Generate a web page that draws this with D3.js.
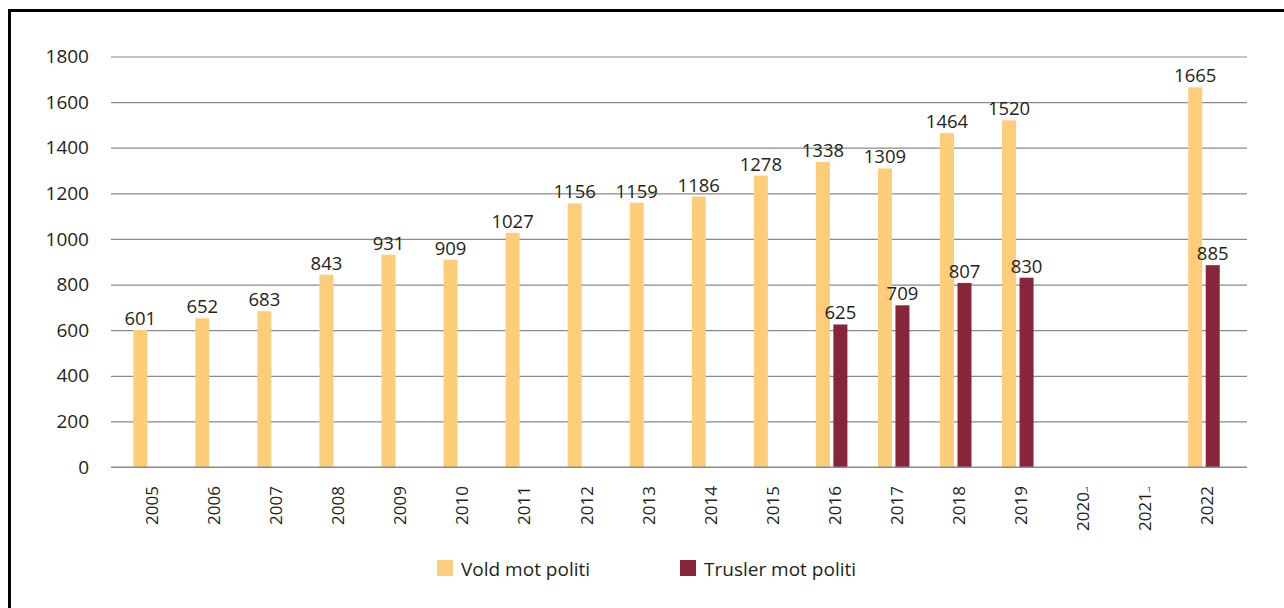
<!DOCTYPE html>
<html lang="no">
<head>
<meta charset="utf-8" />
<title>Vold og trusler mot politi</title>
<script src="https://d3js.org/d3.v7.min.js"></script>
<style>
  body { margin: 0; background: #fff; }
  svg text { font-family: "Open Sans", "Noto Sans", sans-serif; fill: #231f20; }
</style>
</head>
<body>
<div id="chart"></div>
<script>
// data
const years = ['2005', '2006', '2007', '2008', '2009', '2010', '2011', '2012', '2013',
  '2014', '2015', '2016', '2017', '2018', '2019', '2020', '2021', '2022'];
const footnoted = ['2020', '2021'];
const vold = [601, 652, 683, 843, 931, 909, 1027, 1156, 1159, 1186, 1278, 1338, 1309, 1464, 1520, null, null, 1665];
const trusler = [null, null, null, null, null, null, null, null, null, null, null, 625, 709, 807, 830, null, null, 885];
const yTicks = [0, 200, 400, 600, 800, 1000, 1200, 1400, 1600, 1800];
const seriesNames = ['Vold mot politi', 'Trusler mot politi'];
const colors = ['#fecd7a', '#87253a'];

const W = 1284, H = 608;
const plot = { left: 111, right: 1247, top: 56.5, bottom: 467 };

const svg = d3.select('#chart').append('svg')
  .attr('width', W)
  .attr('height', H);

// outer frame (runs off the right and bottom edges)
svg.append('rect')
  .attr('x', 9.5).attr('y', 10.5)
  .attr('width', 1400).attr('height', 800)
  .attr('fill', 'none')
  .attr('stroke', '#000')
  .attr('stroke-width', 3);

const x = d3.scaleBand()
  .domain(years)
  .range([118, 1235])
  .padding(0);

const half = 15.75;
const x1 = d3.scaleBand()
  .domain(seriesNames)
  .range([x.bandwidth() / 2 - half, x.bandwidth() / 2 + half])
  .paddingInner(0.2);

const y = d3.scaleLinear()
  .domain([0, 1800])
  .range([plot.bottom, plot.top]);

// gridlines + y labels
const yAxis = svg.append('g')
  .attr('transform', `translate(${plot.left},0)`)
  .call(d3.axisLeft(y).tickValues(yTicks).tickFormat(d3.format('d'))
    .tickSize(-(plot.right - plot.left)).tickPadding(22));
yAxis.select('.domain').remove();
yAxis.selectAll('.tick line')
  .attr('stroke', '#8a8a8a')
  .attr('stroke-width', 1.2);
yAxis.selectAll('.tick text')
  .attr('font-size', 19)
  .attr('fill', '#231f20');

// bars
const rows = years.map((yr, i) => ({ year: yr, values: [vold[i], trusler[i]] }));

const groups = svg.append('g').selectAll('g')
  .data(rows)
  .join('g')
  .attr('transform', d => `translate(${x(d.year)},0)`);

const cells = groups.selectAll('g')
  .data(d => d.values.map((v, k) => ({ key: seriesNames[k], k, v })).filter(c => c.v != null))
  .join('g');

cells.append('rect')
  .attr('x', c => x1(c.key))
  .attr('width', x1.bandwidth())
  .attr('y', c => y(c.v))
  .attr('height', c => y(0) - y(c.v))
  .attr('fill', c => colors[c.k]);

cells.append('text')
  .attr('x', c => x1(c.key) + x1.bandwidth() / 2)
  .attr('y', c => y(c.v) - 5)
  .attr('text-anchor', 'middle')
  .attr('font-size', 18.5)
  .text(c => c.v);

// x axis baseline redrawn over bars
svg.append('line')
  .attr('x1', plot.left).attr('x2', plot.right)
  .attr('y1', y(0)).attr('y2', y(0))
  .attr('stroke', '#8a8a8a')
  .attr('stroke-width', 1.2);

// rotated year labels
const xl = svg.append('g').selectAll('g')
  .data(years)
  .join('g')
  .attr('transform', d => `translate(${x(d) + x.bandwidth() / 2 + 3},486)`);

xl.append('text')
  .attr('transform', d => `translate(0,${footnoted.includes(d) ? 6 : 0}) rotate(-90)`)
  .attr('text-anchor', 'end')
  .attr('dy', '0.36em')
  .attr('font-size', 17)
  .text(d => d);

// footnote marks on 2020 / 2021
xl.filter(d => footnoted.includes(d))
  .append('text')
  .attr('x', 2)
  .attr('y', 6)
  .attr('font-size', 8)
  .text('1');

// legend
const legend = svg.append('g').selectAll('g')
  .data(seriesNames)
  .join('g')
  .attr('transform', (d, i) => `translate(${i === 0 ? 437 : 680},560)`);

legend.append('rect')
  .attr('width', 16).attr('height', 16)
  .attr('fill', (d, i) => colors[i]);

legend.append('text')
  .attr('x', 24)
  .attr('y', 16)
  .attr('font-size', 19)
  .text(d => d);
</script>
</body>
</html>
